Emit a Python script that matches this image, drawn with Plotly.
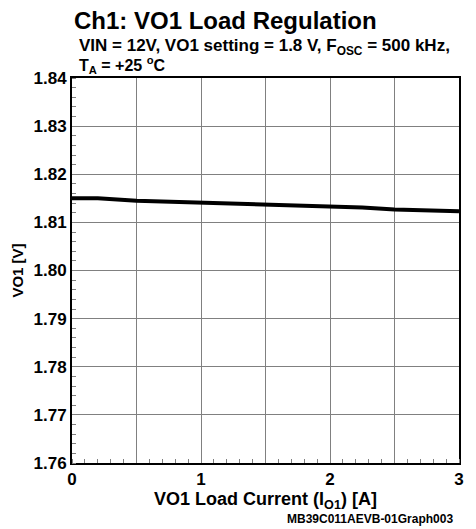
import plotly.graph_objects as go

load_current = [0.0, 0.2, 0.5, 0.75, 1.0, 1.25, 1.5, 1.75, 2.0, 2.25, 2.5, 2.75, 3.0]
vo1 = [1.8150, 1.8150, 1.8145, 1.8143, 1.8141, 1.8140, 1.8138, 1.8135, 1.8133, 1.8131, 1.8127, 1.8124, 1.8123]

x_tickvals = [0, 0.5, 1, 1.5, 2, 2.5, 3]
x_ticktext = ["0", "", "1", "", "2", "", "3"]
y_tickvals = [1.76, 1.77, 1.78, 1.79, 1.80, 1.81, 1.82, 1.83, 1.84]

FONT = "Liberation Sans, Arial, sans-serif"

def bf(size):
    return dict(size=size, family=FONT, color="black", weight="bold")

fig = go.Figure()
fig.add_trace(go.Scatter(x=load_current, y=vo1, mode="lines",
                         line=dict(color="black", width=4), showlegend=False))

# page body adds an 8px margin, so the figure is shrunk/shifted accordingly
fig.update_layout(
    width=468, height=521,
    margin=dict(l=64, r=17, t=70, b=66),
    paper_bgcolor="white", plot_bgcolor="white",
    font=dict(family=FONT, color="black"),
)
fig.update_xaxes(
    range=[0, 3], tickvals=x_tickvals, ticktext=x_ticktext,
    showgrid=True, gridcolor="#808080", gridwidth=1,
    showline=True, linecolor="black", linewidth=2, mirror=True,
    ticks="", tickfont=bf(17), automargin=False,
    minor=dict(dtick=0.1, ticks="inside", ticklen=4, tickcolor="#808080", showgrid=False),
    title=dict(text="VO1 Load Current (I<sub>O1</sub>) [A]", font=bf(18), standoff=2),
    zeroline=False,
)
fig.update_yaxes(
    range=[1.76, 1.84], tickvals=y_tickvals, tickformat=".2f",
    showgrid=True, gridcolor="#808080", gridwidth=1,
    showline=True, linecolor="black", linewidth=2, mirror=True,
    ticks="", tickfont=bf(17), automargin=False,
    minor=dict(dtick=0.002, ticks="inside", ticklen=4, tickcolor="#808080", showgrid=False),
    title=dict(text="VO1 [V]", font=bf(15), standoff=6),
    zeroline=False,
)

fig.add_annotation(xref="paper", yref="paper", x=0.0, y=1.1506, xanchor="left", yanchor="middle",
                   text="Ch1: VO1 Load Regulation", showarrow=False, font=bf(24))
fig.add_annotation(xref="paper", yref="paper", x=0.013, y=1.08, xanchor="left", yanchor="middle",
                   text="VIN = 12V, VO1 setting = 1.8 V, F<sub>OSC</sub> = 500 kHz,", showarrow=False,
                   font=bf(17))
fig.add_annotation(xref="paper", yref="paper", x=0.013, y=1.033, xanchor="left", yanchor="middle",
                   text="T<sub>A</sub> = +25 <sup>o</sup>C", showarrow=False, font=bf(16))
fig.add_annotation(xref="paper", yref="paper", x=0.99, y=-0.145, xanchor="right", yanchor="middle",
                   text="MB39C011AEVB-01Graph003", showarrow=False, font=bf(12))

fig.write_html("out.html")
